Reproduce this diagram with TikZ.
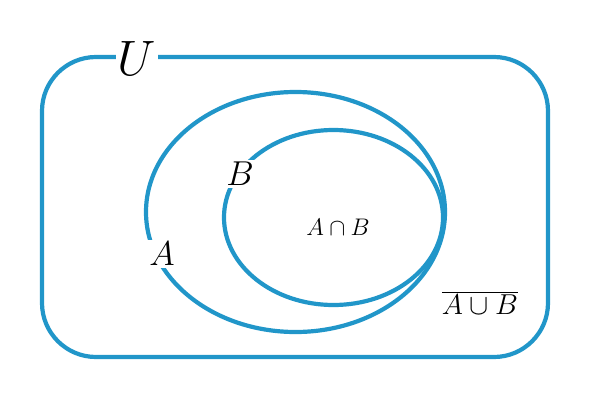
\documentclass[tikz,border=0pt]{standalone}
\definecolor{setblue}{RGB}{33,150,201}
\begin{document}
\begin{tikzpicture}[x=0.5pt, y=-0.5pt, line width=2.1pt]
  \useasboundingbox (0,0) rectangle (590,413);
  \tikzset{lbl/.style={fill=white, inner sep=1pt}}
  \draw[setblue, rounded corners=27pt] (42,57) rectangle (548,357);
  \draw[setblue] (295.5,212) ellipse (149.5 and 120);
  \draw[setblue] (333.5,217.5) ellipse (109.5 and 87.5);
  \node[lbl, font=\fontsize{23}{23}\selectfont] (U) at (137,58) {$U$};
  \node[lbl, font=\fontsize{19}{19}\selectfont] (A) at (162,254) {$A$};
  \node[lbl, font=\fontsize{19}{19}\selectfont] (B) at (240,174) {$B$};
  \node[font=\fontsize{13}{13}\selectfont] (AB) at (338,227) {$A\cap B$};
  \node[font=\fontsize{15}{15}\selectfont] (C) at (480,303) {$\overline{A\cup B}$};
\end{tikzpicture}
\end{document}
